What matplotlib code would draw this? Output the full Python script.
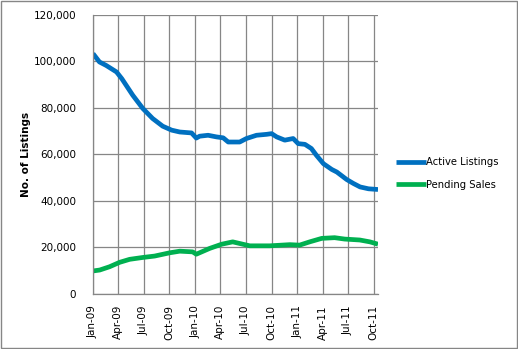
import matplotlib
matplotlib.use("Agg")
import matplotlib.pyplot as plt
import matplotlib.dates as mdates
from matplotlib.patches import Rectangle
from matplotlib.ticker import FuncFormatter
import pandas as pd

# Active listings over time
active_dates = [
    "2009-01-01", "2009-01-24", "2009-02-17", "2009-03-26", "2009-04-14",
    "2009-05-23", "2009-06-28", "2009-08-02", "2009-09-07", "2009-10-09",
    "2009-11-07", "2009-12-19", "2010-01-05", "2010-01-17", "2010-02-16",
    "2010-03-18", "2010-04-11", "2010-04-29", "2010-06-09", "2010-07-03",
    "2010-08-08", "2010-09-13", "2010-10-01", "2010-10-19", "2010-11-17",
    "2010-12-17", "2011-01-04", "2011-01-28", "2011-02-20", "2011-03-10",
    "2011-04-04", "2011-05-04", "2011-05-22", "2011-06-26", "2011-07-20",
    "2011-08-13", "2011-09-12", "2011-10-16",
]
active_values = [
    103300, 99700, 98200, 95400, 92500,
    85400, 79700, 75400, 72100, 70400,
    69600, 69200, 67000, 67800, 68200,
    67500, 67100, 65300, 65300, 66800,
    68200, 68600, 68900, 67500, 66100,
    66800, 64600, 64300, 62500, 59600,
    56000, 53500, 52400, 49200, 47500,
    46000, 45200, 44900,
]

# Pending sales over time
pending_dates = [
    "2009-01-01", "2009-01-25", "2009-03-01", "2009-04-06", "2009-05-12",
    "2009-06-28", "2009-08-09", "2009-10-02", "2009-11-07", "2009-12-23",
    "2010-01-05", "2010-02-22", "2010-04-06", "2010-05-15", "2010-06-09",
    "2010-07-15", "2010-09-24", "2010-12-05", "2011-01-09", "2011-02-14",
    "2011-03-29", "2011-05-14", "2011-06-19", "2011-08-12", "2011-09-17",
    "2011-10-16",
]
pending_values = [
    9900, 10300, 11700, 13600, 14900,
    15700, 16300, 17700, 18400, 18100,
    17100, 19600, 21400, 22400, 21700,
    20700, 20700, 21200, 21000, 22400,
    23900, 24200, 23600, 23200, 22400,
    21400,
]

y_ticks = [0, 20000, 40000, 60000, 80000, 100000, 120000]
x_tick_dates = [
    "2009-01-01", "2009-04-01", "2009-07-01", "2009-10-01",
    "2010-01-01", "2010-04-01", "2010-07-01", "2010-10-01",
    "2011-01-01", "2011-04-01", "2011-07-01", "2011-10-01",
]
x_start, x_end = "2009-01-01", "2011-10-16"

plt.rcParams["font.family"] = ["DejaVu Sans"]

fig = plt.figure(figsize=(5.18, 3.49), dpi=100)
ax = fig.add_axes([93 / 518, 1 - 294 / 349, (378 - 93) / 518, (294 - 14.7) / 349])

grid_color = "#868686"
ax.plot(pd.to_datetime(active_dates), active_values, color="#0070C0", lw=3.4,
        label="Active Listings", solid_joinstyle="round", solid_capstyle="butt")
ax.plot(pd.to_datetime(pending_dates), pending_values, color="#00B050", lw=3.4,
        label="Pending Sales", solid_joinstyle="round", solid_capstyle="butt")

ax.set_xlim(pd.Timestamp(x_start), pd.Timestamp(x_end))
ax.set_ylim(0, 120000)
ax.set_yticks(y_ticks)
ax.yaxis.set_major_formatter(FuncFormatter(lambda v, p: f"{int(v):,}"))
ax.set_xticks(pd.to_datetime(x_tick_dates))
ax.xaxis.set_major_formatter(mdates.DateFormatter("%b-%y"))
for lab in ax.get_xticklabels():
    lab.set_rotation(90)

ax.grid(True, color=grid_color, lw=0.9)
ax.set_axisbelow(True)
for side in ["top", "right"]:
    ax.spines[side].set_visible(False)
for side in ["left", "bottom"]:
    ax.spines[side].set_color(grid_color)
    ax.spines[side].set_linewidth(0.9)
ax.tick_params(axis="both", length=0, labelsize=7.5, colors="black")
ax.tick_params(axis="y", pad=12)
ax.tick_params(axis="x", pad=8)

ax.set_ylabel("No. of Listings", fontsize=7.5, fontweight="bold")
ax.yaxis.set_label_coords(-0.217, 0.5)

leg = fig.legend(loc="upper left", bbox_to_anchor=(387 / 518, 1 - 148 / 349),
                 frameon=False, fontsize=7.2, handlelength=3.0,
                 handletextpad=0.05, labelspacing=1.25)

fig.add_artist(Rectangle((1 / 518, 1 / 349), 516 / 518, 347 / 349,
                         transform=fig.transFigure, fill=False,
                         edgecolor="#868686", lw=1.0))

fig.savefig("out.png", dpi=100)
